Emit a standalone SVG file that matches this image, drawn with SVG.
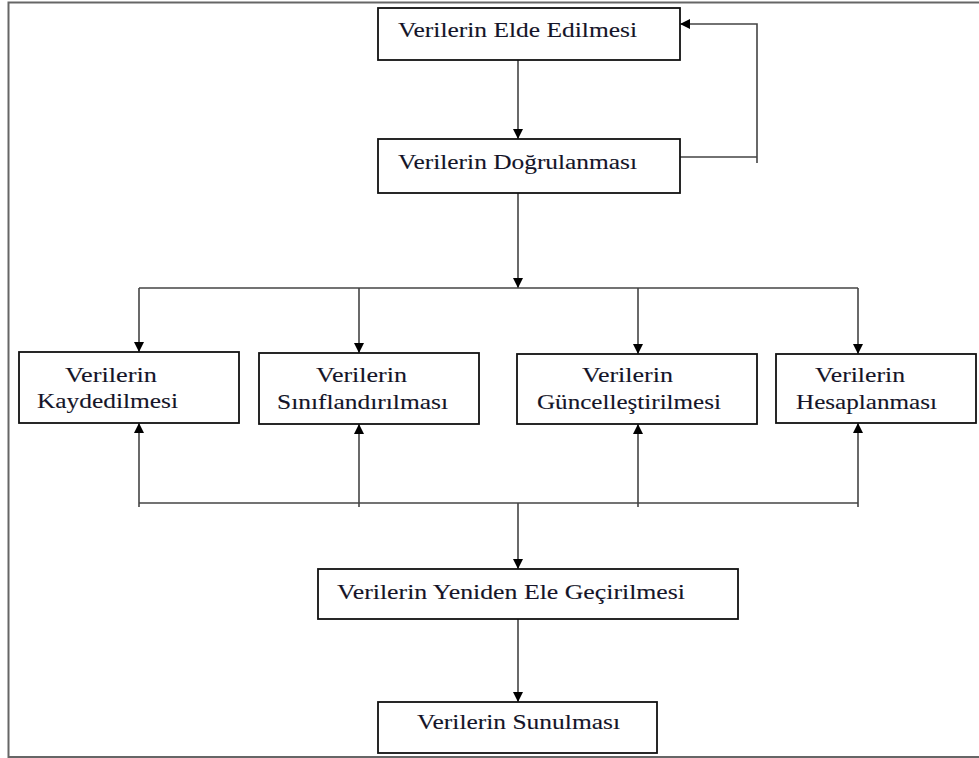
<svg xmlns="http://www.w3.org/2000/svg" width="979" height="758" viewBox="0 0 979 758">
<style>
.box{fill:#fff;stroke:#111;stroke-width:1.8}
.t{font-family:"Liberation Serif","Times New Roman",serif;font-size:22px;fill:#141428;stroke:#141428;stroke-width:0.12}
.c{fill:none;stroke:#444;stroke-width:1.6}
.frame{fill:none;stroke:#666;stroke-width:2}
</style>
<defs>
<marker id="ah" viewBox="0 0 10 10" refX="10" refY="5" markerWidth="11" markerHeight="10" markerUnits="userSpaceOnUse" orient="auto">
<path d="M0,0 L10,5 L0,10 z" fill="#000"/>
</marker>
</defs>
<rect width="979" height="758" fill="#fff"/>
<path class="frame" d="M8.5,758 L8.5,2.5 L979,2.5 M8.5,757 L979,757"/>
<g id="connectors">
<path class="c" d="M518,60 L518,139" marker-end="url(#ah)"/>
<path class="c" d="M680,157 L757,157 M757,163 L757,24 L680,24" marker-end="url(#ah)"/>
<path class="c" d="M518,193 L518,288" marker-end="url(#ah)"/>
<path class="c" d="M139,288 L858,288"/>
<path class="c" d="M139,288 L139,352" marker-end="url(#ah)"/>
<path class="c" d="M359,288 L359,353" marker-end="url(#ah)"/>
<path class="c" d="M638,288 L638,354" marker-end="url(#ah)"/>
<path class="c" d="M858,288 L858,354" marker-end="url(#ah)"/>
<path class="c" d="M139,507 L139,423" marker-end="url(#ah)"/>
<path class="c" d="M359,507 L359,424" marker-end="url(#ah)"/>
<path class="c" d="M638,507 L638,424" marker-end="url(#ah)"/>
<path class="c" d="M858,507 L858,423" marker-end="url(#ah)"/>
<path class="c" d="M139,503 L858,503"/>
<path class="c" d="M518,503 L518,569" marker-end="url(#ah)"/>
<path class="c" d="M518,619 L518,702" marker-end="url(#ah)"/>
</g>
<g id="n1"><rect class="box" x="378" y="8" width="302" height="52"/>
<text class="t" x="398" y="37" textLength="239" lengthAdjust="spacingAndGlyphs">Verilerin Elde Edilmesi</text></g>
<g id="n2"><rect class="box" x="378" y="139" width="302" height="54"/>
<text class="t" x="398" y="169" textLength="239" lengthAdjust="spacingAndGlyphs">Verilerin Doğrulanması</text></g>
<g id="n3"><rect class="box" x="19" y="352" width="220" height="71"/>
<text class="t" x="65" y="382" textLength="92" lengthAdjust="spacingAndGlyphs">Verilerin</text>
<text class="t" x="37" y="408" textLength="141" lengthAdjust="spacingAndGlyphs">Kaydedilmesi</text></g>
<g id="n4"><rect class="box" x="259" y="353" width="220" height="71"/>
<text class="t" x="316" y="382" textLength="91" lengthAdjust="spacingAndGlyphs">Verilerin</text>
<text class="t" x="277" y="409" textLength="171" lengthAdjust="spacingAndGlyphs">Sınıflandırılması</text></g>
<g id="n5"><rect class="box" x="517" y="354" width="240" height="70"/>
<text class="t" x="582" y="382" textLength="91" lengthAdjust="spacingAndGlyphs">Verilerin</text>
<text class="t" x="537" y="409" textLength="184" lengthAdjust="spacingAndGlyphs">Güncelleştirilmesi</text></g>
<g id="n6"><rect class="box" x="776" y="354" width="200" height="69"/>
<text class="t" x="815" y="382" textLength="90" lengthAdjust="spacingAndGlyphs">Verilerin</text>
<text class="t" x="796" y="409" textLength="141" lengthAdjust="spacingAndGlyphs">Hesaplanması</text></g>
<g id="n7"><rect class="box" x="318" y="569" width="420" height="50"/>
<text class="t" x="337" y="599" textLength="348" lengthAdjust="spacingAndGlyphs">Verilerin Yeniden Ele Geçirilmesi</text></g>
<g id="n8"><rect class="box" x="378" y="702" width="279" height="51"/>
<text class="t" x="417" y="729" textLength="203" lengthAdjust="spacingAndGlyphs">Verilerin Sunulması</text></g>
</svg>
